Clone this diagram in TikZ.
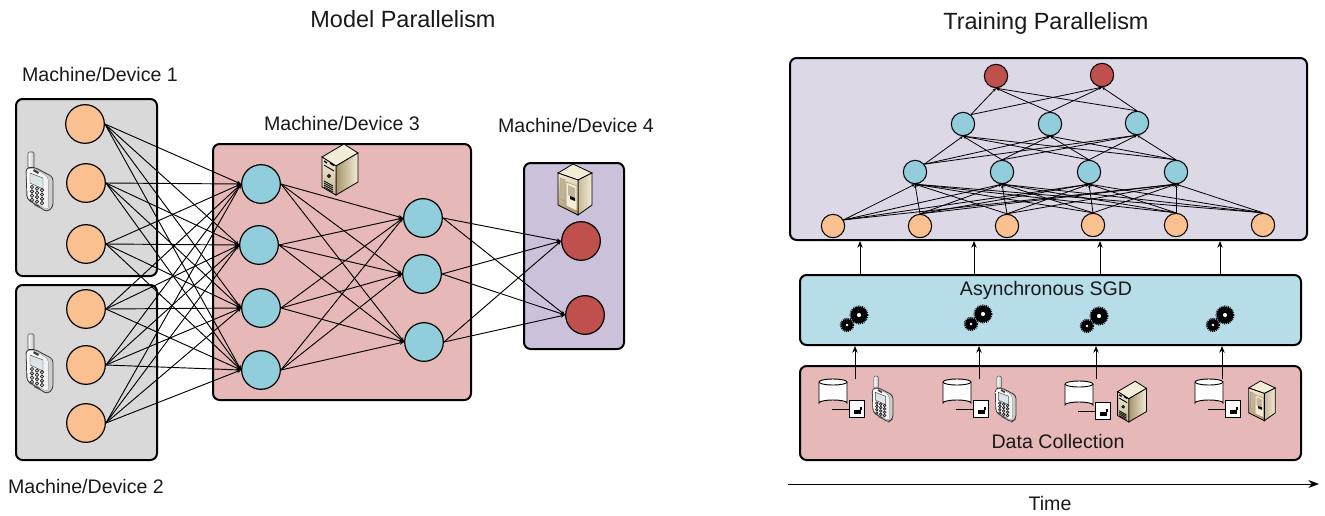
\documentclass[tikz,border=0pt]{standalone}
\usepackage{fontspec}
\setmainfont{Liberation Sans}
\usetikzlibrary{arrows.meta}
\definecolor{cgray}{HTML}{D9D9D9}
\definecolor{cpink}{HTML}{E6B8B7}
\definecolor{cpurple}{HTML}{CCC1DA}
\definecolor{clilac}{HTML}{DDD8E6}
\definecolor{clight}{HTML}{B7DEE8}
\definecolor{corange}{HTML}{FAC090}
\definecolor{cblue}{HTML}{92CDDC}
\definecolor{cred}{HTML}{C0504D}
\definecolor{ctan}{HTML}{A8946C}
\definecolor{ccream}{HTML}{F3ECD6}
\tikzset{
  panel/.style={draw=black,line width=1.5pt,rounded corners=5pt},
  bigcirc/.style={circle,draw=black,line width=.9pt,minimum size=29pt,inner sep=0pt},
  smallcirc/.style={circle,draw=black,line width=.8pt,minimum size=17.5pt,inner sep=0pt},
  edge/.style={line width=.7pt,-{Stealth[length=3.4pt,width=2.8pt]}},
  tinyedge/.style={line width=.6pt,-{Stealth[length=2.6pt,width=2.2pt]}},
  flow/.style={line width=.75pt,-{Stealth[length=5pt,width=4pt]}},
  label/.style={font=\fontsize{14.7pt}{16pt}\selectfont,text=black!90,inner sep=0pt},
  title/.style={font=\fontsize{17.6pt}{20pt}\selectfont,text=black!90,inner sep=0pt},
  phone/.pic={
    \draw[line width=.4pt,draw=black!70,left color=white,right color=gray!50,rounded corners=1pt] (-12,-15) rectangle (-6,-31);
    \draw[line width=.6pt,draw=black!80,fill=gray!40,rounded corners=2.5pt]
      (-14,-15) -- (-6,-16) -- (13,-6) -- (13,24) -- (7,29) -- (-13,16) -- cycle;
    \fill[left color=white,right color=gray!12,rounded corners=2pt]
      (-13.5,-14) -- (-6,-15) -- (8,-6) -- (8,27) -- (-12.5,15) -- cycle;
    \fill[black!75] (-6,-14) -- (-1,-11) -- (-2,-9) -- (-7,-12) -- cycle;
    \draw[line width=.35pt,draw=black!70,top color=gray!25,bottom color=cblue!35] (-10,-10) -- (3,-5) -- (3,6) -- (-10,0) -- cycle;
    \foreach \i in {0,1,2}{\foreach \j in {0,1,2,3}{
      \draw[line width=.55pt,draw=black!85,fill=gray!25] ({-8+5*\i},{4+1.6*\i+4.3*\j}) circle (1.7);}}
    \fill[black!70] (-5,20.5) -- (0,23) -- (-1,24.5) -- (-6,22) -- cycle;
  },
  server/.pic={
    \draw[line width=.6pt,fill=ccream] (4,-26) -- (-18,-13) -- (-4,-4) -- (18,-17) -- cycle;
    \draw[line width=.6pt,left color=ctan,right color=ccream] (-4,-4) -- (18,-17) -- (18,12) -- (-4,25) -- cycle;
    \draw[line width=.6pt,top color=ccream,bottom color=ctan!60!ccream] (-18,-13) -- (-4,-4) -- (-4,25) -- (-18,17) -- cycle;
    \draw[line width=1.1pt] (-16,-9) -- (-13,-7) (-10,-7) -- (-6,-4.5);
    \draw[line width=.7pt] (-16,-5) -- (-6,1);
    \draw[line width=.5pt,fill=black!70] (-11,6) circle (1.7);
    \foreach \k in {0,1,2,3}{\draw[line width=.6pt] (-16,{11+2*\k}) -- (-7,{16+2*\k});}
  },
  tower/.pic={
    \draw[line width=.6pt,fill=ccream] (-2,-27) -- (-17,-18) -- (3,-11) -- (17,-18) -- cycle;
    \draw[line width=.6pt,left color=ctan!60!ccream,right color=ccream] (3,-11) -- (17,-18) -- (17,14) -- (3,24) -- cycle;
    \draw[line width=.6pt,top color=ccream,bottom color=ctan] (-17,-18) -- (3,-11) -- (3,24) -- (-17,14) -- cycle;
    \draw[line width=.3pt,draw=ctan,fill=ctan!70!white] (-15,-13) -- (-10,-11) -- (-10,10) -- (-15,8) -- cycle;
    \draw[line width=.4pt,draw=ctan,fill=ccream] (-9,-9) -- (2,-5) -- (2,20) -- (-9,15) -- cycle;
    \fill[ctan!70!white] (-7,-6) -- (0,-3) -- (0,7) -- (-7,4) -- cycle;
    \fill[black] (-5,5) -- (0,7) -- (0,10) -- (-5,8) -- cycle;
  },
  database/.pic={
    \draw[line width=.7pt,fill=white] (0,3) -- (0,24) arc[start angle=180,end angle=360,x radius=14,y radius=3] -- (28,3);
    \draw[line width=.7pt,fill=white] (14,3) ellipse[x radius=14,y radius=3];
    \draw[line width=.7pt] (13,30) -- (30,30);
    \draw[line width=.6pt,fill=white] (30,21) rectangle (45,38);
    \fill[black] (35,31) rectangle (42,35);
    \fill[black] (41,28) rectangle (42.5,31);
  },
  gearwheel/.pic={
    \fill[black] (0,0) circle (1*\gearR);
    \draw[black,line width=1.5pt,dash pattern=on .7pt off .7pt] (0,0) circle (1*\gearR+0.3);
    \fill[white] (0,0) circle (.25*\gearR);
  },
  gears/.pic={
    \def\gearR{8.2} \pic at (0,0) {gearwheel};
    \def\gearR{5.8} \pic at (-12,10) {gearwheel};
  }
}
\begin{document}
\begin{tikzpicture}[x=.75pt,y=-.75pt]
\useasboundingbox (0,0) rectangle (1325,515);
% panels
\draw[panel,fill=cgray] (16,99) rectangle (157,276);
\draw[panel,fill=cgray] (16,285) rectangle (157,460);
\draw[panel,fill=cpink] (213,144) rectangle (471,400);
\draw[panel,fill=cpurple] (524,163) rectangle (624,349);
\draw[panel,fill=clilac] (790,58) rectangle (1307,240);
\draw[panel,fill=clight] (800,275) rectangle (1301,345);
\draw[panel,fill=cpink] (800,366) rectangle (1301,460);
% titles
\node[title] (t1) at (403,19) {Model Parallelism};
\node[title] (t2) at (1046,23) {Training Parallelism};
\node[label] (m1) at (100,74) {Machine/Device 1};
\node[label] (m2) at (86,486) {Machine/Device 2};
\node[label] (m3) at (342,123) {Machine/Device 3};
\node[label] (m4) at (576,125) {Machine/Device 4};
\node[label] (sgd) at (1046,290) {Asynchronous SGD};
\node[label] (dc) at (1058,441) {Data Collection};
\node[label] (time) at (1050,503) {Time};
% icons
\pic at (40,183) {phone};
\pic at (40,365) {phone};
\pic at (340,170) {server};
\pic at (575,191) {tower};
\pic[scale=.77] at (883,400) {phone};
\pic[scale=.77] at (1006,400) {phone};
\pic[scale=.8] at (1132,402) {server};
\pic[scale=.78] at (1262,402) {tower};
\pic at (819,379) {database};
\pic at (943,379) {database};
\pic at (1065,381) {database};
\pic at (1195,379) {database};
\pic at (859,315) {gears};
\pic at (983,314) {gears};
\pic at (1099,316) {gears};
\pic at (1225,315) {gears};
% left network
\foreach \n/\x/\y in {1/85/124,2/86/183,3/86/244,4/86/309,5/86/365,6/86/423}
  \node[bigcirc,fill=corange] (a\n) at (\x,\y) {};
\foreach \n/\x/\y in {1/261/184,2/259/245,3/261/308,4/261/370}
  \node[bigcirc,fill=cblue] (b\n) at (\x,\y) {};
\foreach \n/\x/\y in {1/423/218,2/422/274,3/424/342}
  \node[bigcirc,fill=cblue] (c\n) at (\x,\y) {};
\foreach \n/\x/\y in {1/581/241,2/585/315}
  \node[bigcirc,fill=cred] (d\n) at (\x,\y) {};
\foreach \i in {1,...,6}\foreach \j in {1,...,4}
  \draw[edge] (a\i.east) -- (b\j.west);
\foreach \i in {1,...,4}\foreach \j in {1,2,3}
  \draw[edge] (b\i.east) -- (c\j.west);
\foreach \i in {1,2,3}\foreach \j in {1,2}
  \draw[edge] (c\i.east) -- (d\j.west);
% right network
\foreach \n/\x/\y in {1/833/226,2/920/226,3/1007/226,4/1093/225,5/1176/225,6/1263/225}
  \node[smallcirc,fill=corange] (p\n) at (\x,\y) {};
\foreach \n/\x/\y in {1/915/172,2/1002/172,3/1089/172,4/1176/172}
  \node[smallcirc,fill=cblue] (q\n) at (\x,\y) {};
\foreach \n/\x/\y in {1/963/124,2/1050/124,3/1137/123}
  \node[smallcirc,fill=cblue] (r\n) at (\x,\y) {};
\foreach \n/\x/\y in {1/996/76,2/1102/75}
  \node[smallcirc,fill=cred] (s\n) at (\x,\y) {};
\foreach \j in {1,...,4}{
  \draw[tinyedge] (p1.30) -- (q\j.south);
  \foreach \i in {2,...,6}\draw[tinyedge] (p\i.north) -- (q\j.south);
}
\foreach \j in {1,2,3}{
  \draw[tinyedge] (q1.40) -- (r\j.south);
  \foreach \i in {2,3,4}\draw[tinyedge] (q\i.north) -- (r\j.south);
}
\foreach \j in {1,2}{
  \draw[tinyedge] (r1.50) -- (s\j.south);
  \foreach \i in {2,3}\draw[tinyedge] (r\i.north) -- (s\j.south);
}
% flows
\foreach \n/\x in {1/855,2/979,3/1096,4/1222}{
  \coordinate (fa\n) at (\x,379);
  \coordinate (fb\n) at (\x,346);
  \draw[flow] (fa\n) -- (fb\n);
}
\foreach \n/\x in {1/860,2/974,3/1100,4/1220}{
  \coordinate (ga\n) at (\x,274);
  \coordinate (gb\n) at (\x,241);
  \draw[flow] (ga\n) -- (gb\n);
}
\coordinate (ta) at (788,484);
\coordinate (tb) at (1319,484);
\draw[line width=.75pt,-{Stealth[length=8pt,width=6pt]}] (ta) -- (tb);
\end{tikzpicture}
\end{document}
